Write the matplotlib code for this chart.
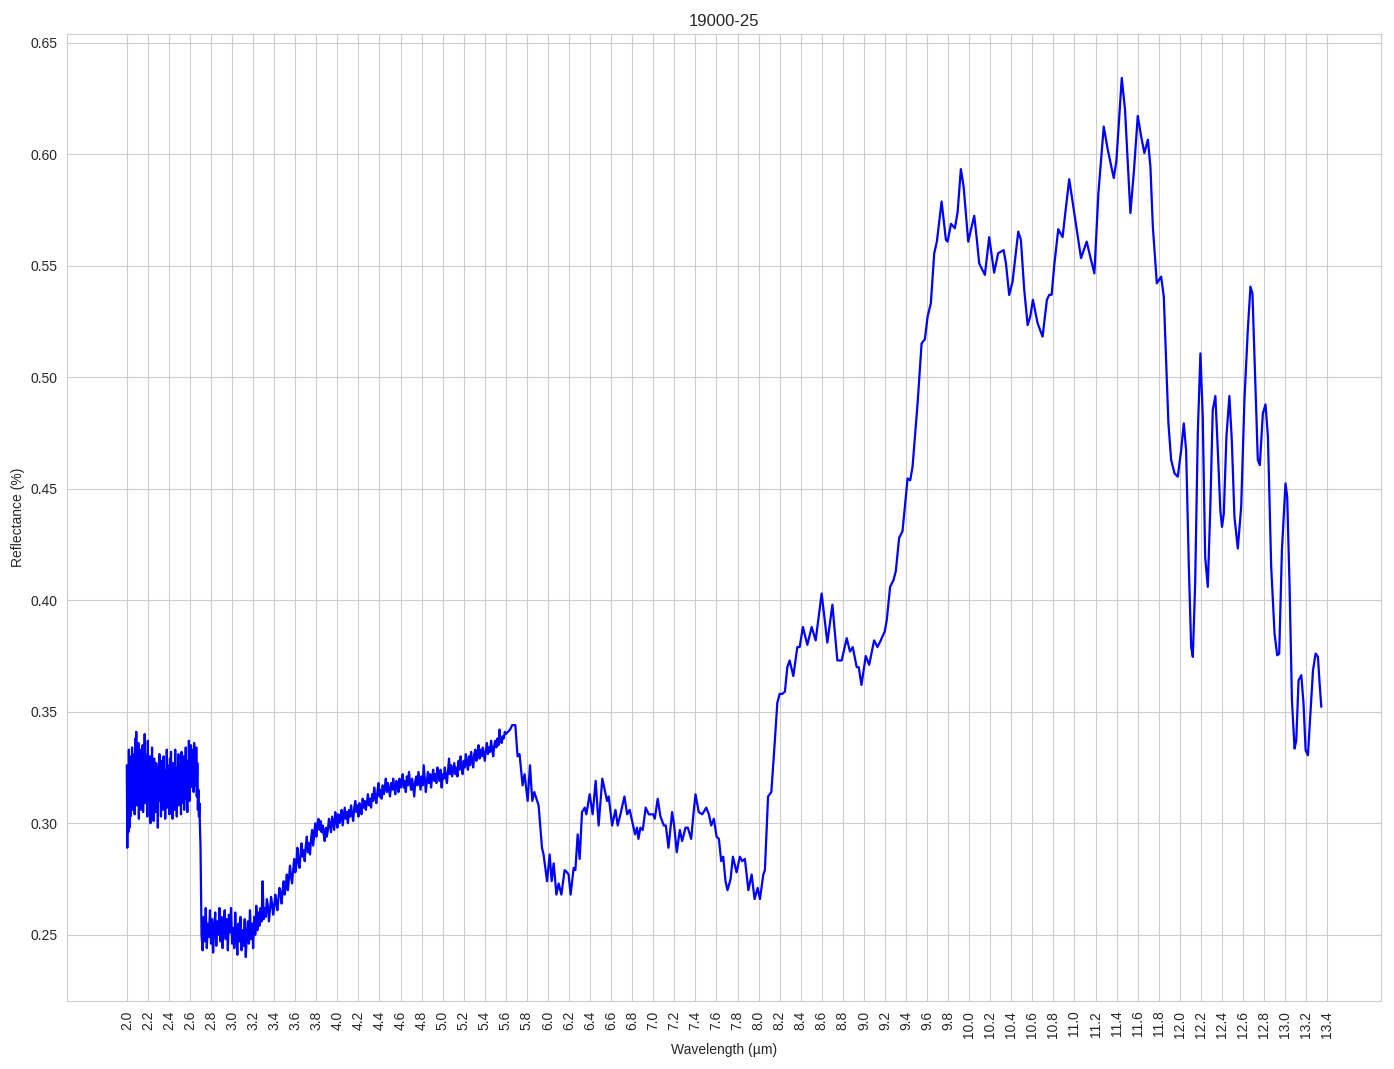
import matplotlib
matplotlib.use('Agg')
import matplotlib.pyplot as plt
import numpy as np
import seaborn as sns

# noisy start of the spectrum, 2.000-2.700 um every 0.005
wl_start, wl_step_a = 2.0, 0.005
refl_a = [
    0.326, 0.289, 0.324, 0.296, 0.333, 0.298, 0.330, 0.303, 0.327, 0.309,
    0.334, 0.306, 0.322, 0.314, 0.331, 0.304, 0.338, 0.310, 0.341, 0.308,
    0.325, 0.312, 0.336, 0.302, 0.329, 0.316, 0.333, 0.306, 0.320, 0.311,
    0.335, 0.305, 0.327, 0.318, 0.340, 0.309, 0.324, 0.313, 0.331, 0.303,
    0.337, 0.310, 0.321, 0.315, 0.330, 0.300, 0.326, 0.311, 0.334, 0.307,
    0.318, 0.301, 0.329, 0.312, 0.323, 0.305, 0.327, 0.316, 0.319, 0.298,
    0.325, 0.310, 0.331, 0.314, 0.322, 0.303, 0.328, 0.312, 0.320, 0.306,
    0.330, 0.317, 0.324, 0.302, 0.318, 0.311, 0.333, 0.307, 0.326, 0.313,
    0.321, 0.304, 0.329, 0.315, 0.332, 0.309, 0.323, 0.302, 0.327, 0.314,
    0.319, 0.306, 0.333, 0.310, 0.325, 0.303, 0.321, 0.316, 0.331, 0.308,
    0.326, 0.312, 0.320, 0.304, 0.332, 0.309, 0.324, 0.314, 0.330, 0.306,
    0.318, 0.313, 0.334, 0.311, 0.322, 0.305, 0.328, 0.315, 0.337, 0.310,
    0.325, 0.316, 0.335, 0.318, 0.333, 0.322, 0.331, 0.314, 0.336, 0.320,
    0.329, 0.317, 0.334, 0.312, 0.327, 0.306, 0.315, 0.303, 0.309, 0.298,
    0.290,
]

# after the drop, 2.71-5.60 um every 0.01
wl_b_start, wl_step_b = 2.71, 0.01
refl_b = [
    0.250, 0.243, 0.258, 0.247, 0.262, 0.244, 0.255, 0.249, 0.261, 0.246,
    0.257, 0.242, 0.253, 0.260, 0.245, 0.256, 0.250, 0.262, 0.247, 0.258,
    0.244, 0.254, 0.261, 0.248, 0.257, 0.243, 0.259, 0.251, 0.262, 0.246,
    0.253, 0.244, 0.260, 0.249, 0.241, 0.255, 0.247, 0.258, 0.243, 0.252,
    0.245, 0.257, 0.240, 0.250, 0.256, 0.246, 0.261, 0.248, 0.255, 0.244,
    0.258, 0.250, 0.263, 0.252, 0.260, 0.254, 0.262, 0.256, 0.274, 0.257,
    0.262, 0.258, 0.266, 0.263, 0.256, 0.261, 0.267, 0.264, 0.259, 0.262,
    0.268, 0.265, 0.261, 0.266, 0.271, 0.269, 0.264, 0.270, 0.274, 0.268,
    0.272, 0.277, 0.270, 0.275, 0.281, 0.276, 0.273, 0.279, 0.284, 0.278,
    0.281, 0.289, 0.283, 0.280, 0.286, 0.291, 0.285, 0.288, 0.283, 0.290,
    0.294, 0.287, 0.291, 0.286, 0.293, 0.297, 0.290, 0.295, 0.300, 0.294,
    0.299, 0.302, 0.297, 0.301, 0.296, 0.299, 0.295, 0.292, 0.298, 0.294,
    0.297, 0.302, 0.299, 0.296, 0.303, 0.300, 0.297, 0.305, 0.301, 0.298,
    0.304, 0.300, 0.302, 0.306, 0.299, 0.303, 0.307, 0.302, 0.305, 0.300,
    0.306, 0.303, 0.308, 0.304, 0.301, 0.307, 0.310, 0.305, 0.308, 0.303,
    0.309, 0.306, 0.304, 0.311, 0.307, 0.310, 0.306, 0.309, 0.313, 0.308,
    0.311, 0.307, 0.313, 0.310, 0.316, 0.312, 0.309, 0.314, 0.318, 0.312,
    0.315, 0.311, 0.317, 0.313, 0.316, 0.320, 0.314, 0.318, 0.315, 0.312,
    0.318, 0.315, 0.320, 0.316, 0.313, 0.319, 0.317, 0.314, 0.320, 0.316,
    0.318, 0.322, 0.316, 0.319, 0.314, 0.321, 0.317, 0.323, 0.318, 0.315,
    0.320, 0.316, 0.312, 0.319, 0.321, 0.317, 0.323, 0.319, 0.315, 0.321,
    0.317, 0.326, 0.320, 0.314, 0.319, 0.323, 0.318, 0.322, 0.316, 0.321,
    0.324, 0.319, 0.322, 0.318, 0.325, 0.321, 0.319, 0.324, 0.316, 0.322,
    0.320, 0.325, 0.321, 0.318, 0.323, 0.329, 0.322, 0.326, 0.321, 0.324,
    0.327, 0.322, 0.325, 0.321, 0.328, 0.324, 0.330, 0.325, 0.322, 0.328,
    0.325, 0.331, 0.327, 0.324, 0.330, 0.326, 0.332, 0.328, 0.325, 0.331,
    0.333, 0.328, 0.331, 0.335, 0.329, 0.333, 0.330, 0.334, 0.331, 0.328,
    0.333, 0.336, 0.331, 0.334, 0.332, 0.337, 0.333, 0.330, 0.335, 0.337,
    0.334, 0.338, 0.335, 0.342, 0.337, 0.336, 0.339, 0.338, 0.341, 0.340,
]

# smoother part from 5.62 um on
wl_c = [
    5.62, 5.64, 5.66, 5.69, 5.711, 5.73, 5.759, 5.778, 5.807, 5.829,
    5.851, 5.870, 5.89, 5.911, 5.943, 5.958, 5.991, 6.016, 6.035, 6.054,
    6.080, 6.101, 6.127, 6.158, 6.181, 6.196, 6.215, 6.244, 6.260, 6.282,
    6.301, 6.323, 6.349, 6.364, 6.396, 6.424, 6.453, 6.481, 6.516, 6.561,
    6.577, 6.609, 6.641, 6.662, 6.688, 6.726, 6.752, 6.776, 6.808, 6.827,
    6.846, 6.859, 6.878, 6.900, 6.928, 6.957, 6.999, 7.014, 7.042, 7.068,
    7.100, 7.119, 7.144, 7.179, 7.198, 7.223, 7.252, 7.274, 7.306, 7.328,
    7.360, 7.379, 7.401, 7.432, 7.465, 7.503, 7.528, 7.550, 7.575, 7.601,
    7.623, 7.645, 7.664, 7.686, 7.705, 7.734, 7.756, 7.791, 7.822, 7.845,
    7.870, 7.903, 7.934, 7.962, 7.991, 8.013, 8.045, 8.06, 8.09, 8.121,
    8.146, 8.178, 8.200, 8.225, 8.250, 8.273, 8.295, 8.330, 8.368, 8.390,
    8.421, 8.463, 8.504, 8.542, 8.599, 8.653, 8.701, 8.748, 8.789, 8.837,
    8.868, 8.894, 8.932, 8.951, 8.977, 9.018, 9.050, 9.097, 9.129, 9.160,
    9.198, 9.217, 9.249, 9.281, 9.303, 9.335, 9.367, 9.415, 9.440, 9.462,
    9.510, 9.548, 9.579, 9.605, 9.636, 9.668, 9.693, 9.738, 9.779, 9.795,
    9.827, 9.864, 9.890, 9.921, 9.947, 9.991, 10.016, 10.048, 10.073, 10.095,
    10.118, 10.149, 10.190, 10.237, 10.275, 10.327, 10.349, 10.380, 10.412, 10.466,
    10.491, 10.523, 10.555, 10.580, 10.605, 10.650, 10.697, 10.738, 10.760, 10.783,
    10.808, 10.846, 10.887, 10.909, 10.950, 10.998, 11.062, 11.116, 11.157, 11.189,
    11.227, 11.278, 11.316, 11.373, 11.398, 11.449, 11.480, 11.531, 11.563, 11.601,
    11.633, 11.664, 11.697, 11.721, 11.744, 11.782, 11.823, 11.848, 11.870, 11.892,
    11.918, 11.950, 11.981, 12.013, 12.038, 12.060, 12.086, 12.108, 12.124, 12.146,
    12.171, 12.196, 12.218, 12.241, 12.266, 12.291, 12.313, 12.338, 12.361, 12.385,
    12.401, 12.418, 12.443, 12.471, 12.494, 12.519, 12.551, 12.583, 12.614, 12.646,
    12.671, 12.690, 12.716, 12.741, 12.760, 12.789, 12.814, 12.837, 12.868, 12.900,
    12.925, 12.944, 12.970, 13.004, 13.020, 13.042, 13.065, 13.090, 13.106, 13.128,
    13.154, 13.175, 13.195, 13.217, 13.239, 13.265, 13.290, 13.312, 13.328, 13.344,
]
refl_c = [
    0.341, 0.342, 0.344, 0.344, 0.330, 0.331, 0.317, 0.322, 0.310, 0.326,
    0.310, 0.314, 0.311, 0.308, 0.289, 0.286, 0.274, 0.286, 0.274, 0.282,
    0.268, 0.273, 0.268, 0.279, 0.278, 0.277, 0.268, 0.280, 0.279, 0.295,
    0.284, 0.305, 0.307, 0.304, 0.313, 0.304, 0.319, 0.299, 0.320, 0.310,
    0.312, 0.299, 0.306, 0.299, 0.304, 0.312, 0.304, 0.306, 0.299, 0.295,
    0.298, 0.293, 0.298, 0.297, 0.307, 0.304, 0.304, 0.302, 0.311, 0.303,
    0.299, 0.299, 0.289, 0.305, 0.299, 0.287, 0.297, 0.292, 0.298, 0.298,
    0.293, 0.303, 0.313, 0.305, 0.304, 0.307, 0.304, 0.299, 0.302, 0.294,
    0.293, 0.283, 0.285, 0.274, 0.270, 0.275, 0.285, 0.278, 0.285, 0.283,
    0.284, 0.270, 0.277, 0.266, 0.271, 0.266, 0.277, 0.279, 0.312, 0.314,
    0.331, 0.354, 0.358, 0.358, 0.359, 0.370, 0.373, 0.366, 0.379, 0.379,
    0.388, 0.380, 0.388, 0.382, 0.403, 0.381, 0.398, 0.373, 0.373, 0.383,
    0.377, 0.379, 0.370, 0.370, 0.362, 0.375, 0.371, 0.382, 0.379, 0.382,
    0.386, 0.391, 0.406, 0.409, 0.413, 0.428, 0.431, 0.4546, 0.4538, 0.4598,
    0.4883, 0.5152, 0.517, 0.5272, 0.5332, 0.5556, 0.5608, 0.5788, 0.5616, 0.5608,
    0.5688, 0.5668, 0.574, 0.5933, 0.5855, 0.5608, 0.566, 0.5724, 0.5616, 0.5511,
    0.5488, 0.5459, 0.5628, 0.5469, 0.5556, 0.557, 0.5511, 0.5369, 0.5429, 0.5653,
    0.5616, 0.5391, 0.5234, 0.5272, 0.5347, 0.5242, 0.5182, 0.5347, 0.5369, 0.537,
    0.5503, 0.5664, 0.5628, 0.5721, 0.5888, 0.5736, 0.5534, 0.5608, 0.5526, 0.5466,
    0.5825, 0.6124, 0.602, 0.5893, 0.597, 0.6342, 0.6199, 0.5736, 0.5915, 0.6172,
    0.608, 0.6005, 0.6065, 0.5945, 0.5676, 0.5421, 0.5451, 0.5362, 0.5077, 0.4793,
    0.4629, 0.4569, 0.4554, 0.4673, 0.4793, 0.4673, 0.415, 0.379, 0.3746, 0.4075,
    0.4748, 0.5107, 0.4823, 0.4195, 0.406, 0.4434, 0.4853, 0.4916, 0.4673, 0.4404,
    0.4329, 0.4389, 0.4733, 0.4916, 0.4718, 0.4374, 0.4232, 0.4419, 0.4898, 0.5212,
    0.5406, 0.5376, 0.5002, 0.4629, 0.4606, 0.4838, 0.4878, 0.4733, 0.415, 0.385,
    0.3753, 0.3760, 0.4225, 0.4524, 0.4464, 0.4075, 0.3551, 0.3335, 0.337, 0.3641,
    0.3664, 0.3537, 0.3327, 0.3305, 0.3477, 0.3686, 0.3761, 0.3746, 0.3626, 0.3522,
]

title = '19000-25'

wl_a = wl_start + wl_step_a * np.arange(len(refl_a))
wl_b = wl_b_start + wl_step_b * np.arange(len(refl_b))
wavelength = np.concatenate([wl_a, wl_b, wl_c])
reflectance = np.concatenate([refl_a, refl_b, refl_c])

sns.set_style('whitegrid')
plt.rcParams['font.family'] = ['Liberation Sans', 'DejaVu Sans']

fig = plt.figure(figsize=(13.94, 10.69), dpi=100)
ax = fig.add_axes([0.0481, 0.0636, 0.9426, 0.9046])
ax.plot(wavelength, reflectance, color='blue', linewidth=1.6)

ticks = np.round(np.arange(2.0, 13.41, 0.2), 1)
ax.set_xticks(ticks)
ax.set_xticklabels(['%.1f' % t for t in ticks], rotation=90)
ax.set_xlabel('Wavelength (µm)')
ax.set_ylabel('Reflectance (%)')
ax.set_title(title)

fig.savefig('out.png', dpi=100)
